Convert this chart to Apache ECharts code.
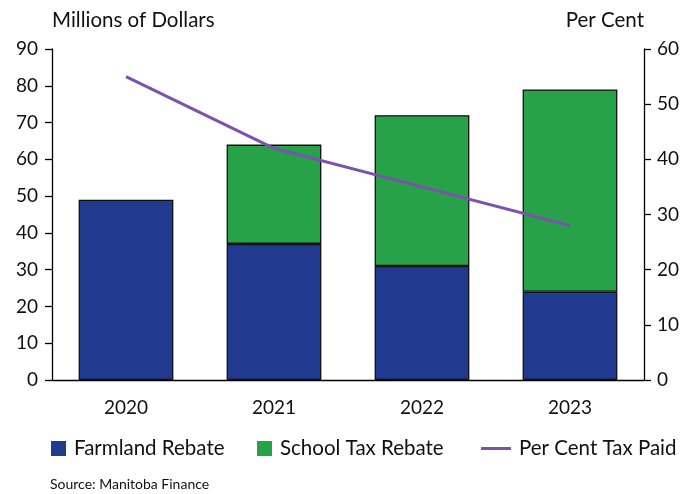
<!DOCTYPE html>
<html>
<head>
<meta charset="utf-8">
<script src="https://cdn.jsdelivr.net/npm/echarts@6/dist/echarts.min.js"></script>
<style>
html,body{margin:0;padding:0;background:#fff;}
#chart{width:693px;height:494px;}
</style>
</head>
<body>
<div id="chart"></div>
<script>
var categories = ['2020', '2021', '2022', '2023'];
var farmlandRebate = [49, 37, 31, 24];
var schoolTaxRebate = [null, 27, 41, 55];
var perCentTaxPaid = [55, 42, 35, 28];
var leftTicks = [0, 90, 10];
var rightTicks = [0, 60, 10];

var FONT = 'Lato';
var chart = echarts.init(document.getElementById('chart'), null, {renderer: 'canvas'});
var axisLineStyle = {color: '#000', width: 1.3};
var legendText = {fontFamily: FONT, fontSize: 20.5, color: '#111', padding: [0, 0, 0, 3]};
var legendCommon = {top: 438, padding: 0, itemWidth: 15, itemHeight: 15, icon: 'rect',
  itemStyle: {borderWidth: 0}, textStyle: legendText};
chart.setOption({
  animation: false,
  textStyle: {fontFamily: FONT},
  grid: {left: 52, right: 49, top: 49, bottom: 114, containLabel: false},
  legend: [
    Object.assign({}, legendCommon, {data: ['Farmland Rebate'], left: 51}),
    Object.assign({}, legendCommon, {data: ['School Tax Rebate'], left: 257}),
    Object.assign({}, legendCommon, {data: ['Per Cent Tax Paid'], left: 481, itemWidth: 30, itemHeight: 3})
  ],
  graphic: [
    {type: 'text', left: 50, top: 477, style: {text: 'Source: Manitoba Finance', font: '14px ' + FONT, fill: '#111'}}
  ],
  xAxis: {
    type: 'category', data: categories,
    axisLine: {lineStyle: axisLineStyle},
    axisTick: {alignWithLabel: true, length: 8, lineStyle: axisLineStyle},
    axisLabel: {fontSize: 19, color: '#111', margin: 18, fontFamily: FONT}
  },
  yAxis: [
    {type: 'value', min: leftTicks[0], max: leftTicks[1], interval: leftTicks[2],
     name: 'Millions of Dollars', nameLocation: 'end', nameGap: 29,
     nameTextStyle: {align: 'left', verticalAlign: 'middle', fontSize: 20.5, color: '#111', fontFamily: FONT},
     axisLine: {show: true, lineStyle: axisLineStyle},
     axisTick: {show: true, length: 7, lineStyle: axisLineStyle},
     splitLine: {show: false},
     axisLabel: {fontSize: 19, color: '#111', margin: 14, fontFamily: FONT}},
    {type: 'value', min: rightTicks[0], max: rightTicks[1], interval: rightTicks[2], position: 'right',
     name: 'Per Cent', nameLocation: 'end', nameGap: 29,
     nameTextStyle: {align: 'right', verticalAlign: 'middle', fontSize: 20.5, color: '#111', fontFamily: FONT},
     axisLine: {show: true, lineStyle: axisLineStyle},
     axisTick: {show: true, length: 7, lineStyle: axisLineStyle},
     splitLine: {show: false},
     axisLabel: {fontSize: 19, color: '#111', margin: 13, fontFamily: FONT}}
  ],
  series: [
    {name: 'Farmland Rebate', type: 'bar', stack: 'total', data: farmlandRebate, barCategoryGap: '36%',
     itemStyle: {color: '#1F3A8E', borderColor: '#111', borderWidth: 1.3}},
    {name: 'School Tax Rebate', type: 'bar', stack: 'total', data: schoolTaxRebate,
     itemStyle: {color: '#28A249', borderColor: '#111', borderWidth: 1.3}},
    {name: 'Per Cent Tax Paid', type: 'line', yAxisIndex: 1, data: perCentTaxPaid, symbol: 'none',
     lineStyle: {color: '#7B52AE', width: 3}, itemStyle: {color: '#7B52AE'}}
  ]
});
</script>
</body>
</html>
